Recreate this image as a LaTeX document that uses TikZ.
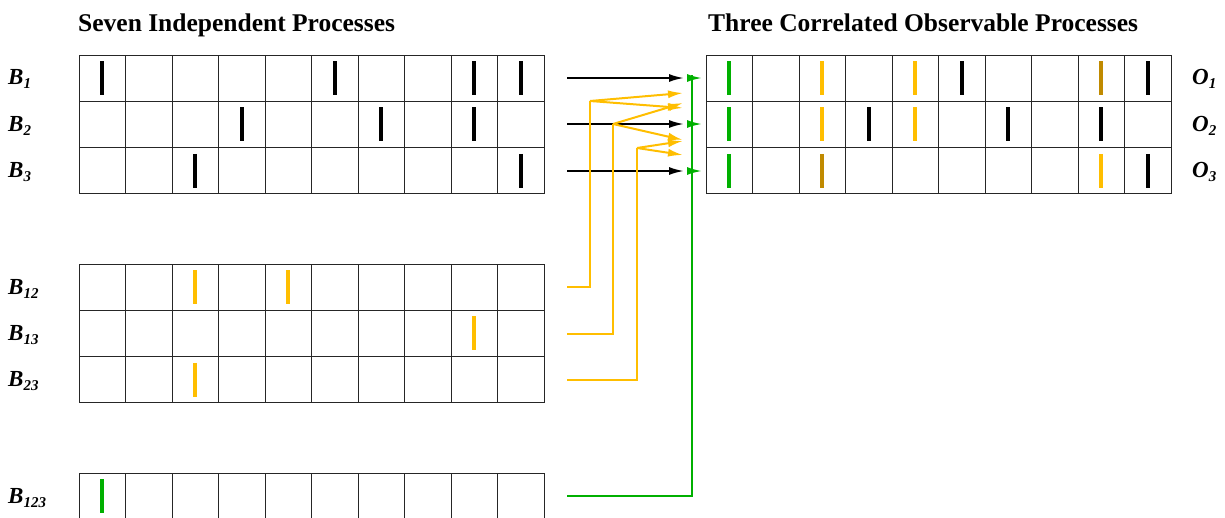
\documentclass[tikz,border=0pt]{standalone}
\usepackage{fontspec}
\setmainfont{Liberation Serif}
\usetikzlibrary{arrows.meta}

\definecolor{amber}{RGB}{255,190,0}
\definecolor{leafgreen}{RGB}{0,176,0}
\definecolor{ochre}{RGB}{192,138,0}

% subscripted process name
\newcommand{\pname}[2]{#1\raisebox{-0.35ex}{\fontsize{15}{15}\selectfont #2}}

\tikzset{
  cellline/.style={draw=black!85, line width=1pt},
  spike/.style={line width=4pt},
  flow/.style={line width=2pt, -{Latex[length=15pt,width=8pt]}},
  title/.style={font=\bfseries\fontsize{25.5}{30}\selectfont, anchor=base west, inner sep=0pt},
  procname/.style={font=\bfseries\itshape\fontsize{23}{26}\selectfont, anchor=west, inner sep=0pt}
}

\begin{document}
\begin{tikzpicture}[x=1pt,y=-1pt]
  \useasboundingbox (0,0) rectangle (1225,517);

  % titles
  \node[title] (lefttitle) at (78,31) {Seven Independent Processes};
  \node[title] (righttitle) at (708,31) {Three Correlated Observable Processes};

  % grids: x0/y0/rows
  \foreach \gx/\gy/\gr in {79/55/3, 79/264/3, 79/473/1, 706/55/3} {
    \draw[cellline] (\gx,\gy) rectangle (\gx+465,\gy+46.33*\gr);
    \foreach \k in {1,...,9}
      \draw[cellline] (\gx+46.5*\k,\gy) -- (\gx+46.5*\k,\gy+46.33*\gr);
    \ifnum\gr>1
      \foreach \k in {1,...,\numexpr\gr-1\relax}
        \draw[cellline] (\gx,\gy+46.33*\k) -- (\gx+465,\gy+46.33*\k);
    \fi
  }

  % events: x0/y0/column/row/colour
  \foreach \gx/\gy/\c/\r/\col in {
      79/55/1/1/black, 79/55/6/1/black, 79/55/9/1/black, 79/55/10/1/black,
      79/55/4/2/black, 79/55/7/2/black, 79/55/9/2/black,
      79/55/3/3/black, 79/55/10/3/black,
      79/264/3/1/amber, 79/264/5/1/amber, 79/264/9/2/amber, 79/264/3/3/amber,
      79/473/1/1/leafgreen,
      706/55/1/1/leafgreen, 706/55/3/1/amber, 706/55/5/1/amber, 706/55/6/1/black,
      706/55/9/1/ochre, 706/55/10/1/black,
      706/55/1/2/leafgreen, 706/55/3/2/amber, 706/55/4/2/black, 706/55/5/2/amber,
      706/55/7/2/black, 706/55/9/2/black,
      706/55/1/3/leafgreen, 706/55/3/3/ochre, 706/55/9/3/amber, 706/55/10/3/black}
    \draw[spike,\col] (\gx+46.5*\c-23.25,\gy+46.33*\r-40.2) -- ++(0,34);

  % process names
  \node[procname] (lb1) at (8,79) {\pname{B}{1}};
  \node[procname] (lb2) at (8,126) {\pname{B}{2}};
  \node[procname] (lb3) at (8,172) {\pname{B}{3}};
  \node[procname] (lb12) at (8,289) {\pname{B}{12}};
  \node[procname] (lb13) at (8,335) {\pname{B}{13}};
  \node[procname] (lb23) at (8,381) {\pname{B}{23}};
  \node[procname] (lb123) at (8,498) {\pname{B}{123}};
  \node[procname] (lo1) at (1192,79) {\pname{O}{1}};
  \node[procname] (lo2) at (1192,126) {\pname{O}{2}};
  \node[procname] (lo3) at (1192,172) {\pname{O}{3}};

  % connector ends
  \coordinate (s1) at (567,78);
  \coordinate (s2) at (567,124);
  \coordinate (s3) at (567,171);
  \coordinate (s12) at (567,287);
  \coordinate (s13) at (567,334);
  \coordinate (s23) at (567,380);
  \coordinate (s123) at (567,496);
  \coordinate (t1) at (684,78);
  \coordinate (t2) at (684,124);
  \coordinate (t3) at (684,171);
  \coordinate (k12) at (590,101);
  \coordinate (k13) at (613,124);
  \coordinate (k23) at (637,148);
  \coordinate (g0) at (692,75);
  \coordinate (g1) at (692,78);
  \coordinate (g2) at (692,124);
  \coordinate (g3) at (692,171);

  \draw[flow] (s1) -- (t1);
  \draw[flow] (s2) -- (t2);
  \draw[flow] (s3) -- (t3);

  \begin{scope}[amber, line width=2pt]
    \draw (s12) -| (k12);
    \draw (s13) -| (k13);
    \draw (s23) -| (k23);
    \draw[flow] (k12) -- (683,93);
    \draw[flow] (k12) -- (683,108);
    \draw[flow] (k13) -- (683,103);
    \draw[flow] (k13) -- (683,140);
    \draw[flow] (k23) -- (683,141);
    \draw[flow] (k23) -- (683,155);
  \end{scope}

  \begin{scope}[leafgreen]
    \draw[line width=2pt] (s123) -| (g0);
    \draw[flow] (g1) -- ++(10,0);
    \draw[flow] (g2) -- ++(10,0);
    \draw[flow] (g3) -- ++(10,0);
  \end{scope}
\end{tikzpicture}
\end{document}
